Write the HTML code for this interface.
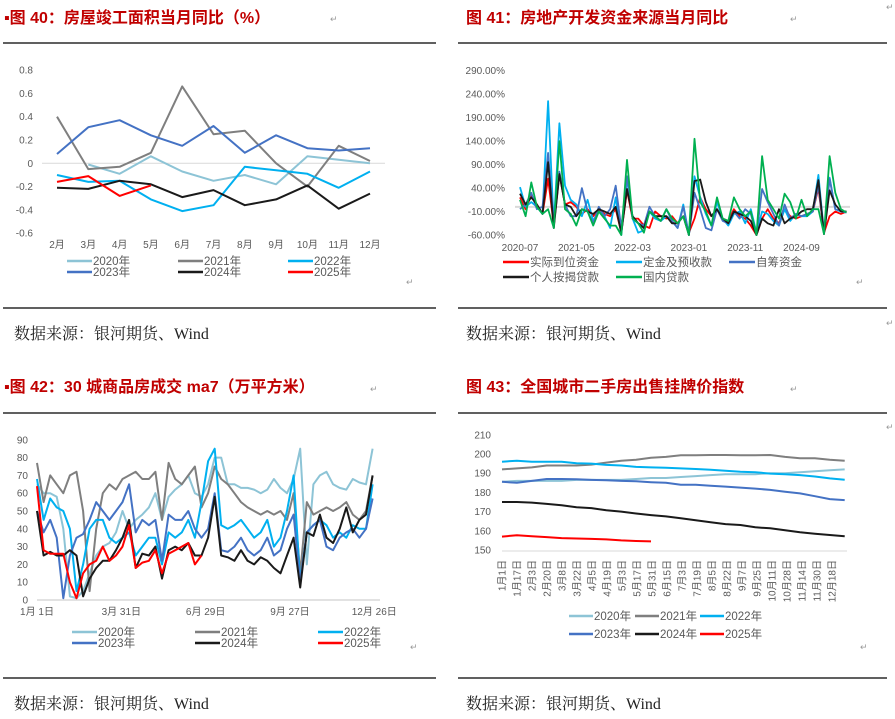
<!DOCTYPE html>
<html><head><meta charset="utf-8"><style>
body{margin:0;background:#fff;}
svg{display:block;font-family:"Liberation Sans","Noto Sans CJK SC",sans-serif;}
.t{fill:#c00000;font-weight:bold;font-size:16px;font-family:"Liberation Sans","Noto Sans CJK SC",sans-serif;}
.src{fill:#222;font-size:16px;font-family:"Liberation Serif","Noto Serif CJK SC",serif;}
.tk{fill:#595959;font-size:10px;}
.lg{fill:#595959;font-size:11.5px;}
.rt{fill:#999;font-size:9px;}
</style></head><body>
<svg id="s" width="895" height="719" viewBox="0 0 895 719">
<text class="t" x="4" y="23">▪图 40：房屋竣工面积当月同比（%）</text>
<text class="t" x="466" y="23">图 41：房地产开发资金来源当月同比</text>
<text class="t" x="4" y="392">▪图 42：30 城商品房成交 ma7（万平方米）</text>
<text class="t" x="466" y="392">图 43：全国城市二手房出售挂牌价指数</text>
<g stroke="#000" stroke-width="1.2">
<line x1="3" y1="43" x2="436" y2="43"/><line x1="458" y1="43" x2="887" y2="43"/>
<line x1="3" y1="308" x2="436" y2="308"/><line x1="458" y1="308" x2="887" y2="308"/>
<line x1="3" y1="413" x2="436" y2="413"/><line x1="458" y1="413" x2="887" y2="413"/>
<line x1="3" y1="678" x2="436" y2="678"/><line x1="458" y1="678" x2="887" y2="678"/>
</g>
<text class="src" x="14" y="339">数据来源：银河期货、Wind</text>
<text class="src" x="466" y="339">数据来源：银河期货、Wind</text>
<text class="src" x="14" y="709">数据来源：银河期货、Wind</text>
<text class="src" x="466" y="709">数据来源：银河期货、Wind</text>
<g class="rt"><text x="330" y="22">↵</text><text x="790" y="22">↵</text><text x="886" y="10">↵</text><text x="406" y="285">↵</text><text x="856" y="285">↵</text><text x="886" y="326">↵</text><text x="370" y="392">↵</text><text x="790" y="392">↵</text><text x="886" y="430">↵</text><text x="410" y="650">↵</text><text x="860" y="650">↵</text></g>
<g id="c1"></g><g id="c2"></g><g id="c3"></g><g id="c4"></g>
</svg>
<script>
// ---------- data ----------
const c1Months=["2月","3月","4月","5月","6月","7月","8月","9月","10月","11月","12月"];
const c1Ticks=[0.8,0.6,0.4,0.2,0,-0.2,-0.4,-0.6];
const c1y2020=[null,-0.01,-0.09,0.06,-0.07,-0.15,-0.1,-0.18,0.06,0.03,0.0];
const c1y2021=[0.40,-0.05,-0.03,0.09,0.66,0.25,0.28,0,-0.2,0.15,0.02];
const c1y2022=[-0.1,-0.16,-0.15,-0.31,-0.41,-0.36,-0.03,-0.06,-0.09,-0.21,-0.07];
const c1y2023=[0.08,0.31,0.37,0.24,0.15,0.32,0.09,0.24,0.13,0.11,0.13];
const c1y2024=[-0.21,-0.22,-0.15,-0.18,-0.29,-0.23,-0.36,-0.31,-0.19,-0.39,-0.26];
const c1y2025=[-0.16,-0.11,-0.28,-0.19];

const c2Ticks=[290,240,190,140,90,40,-10,-60];
const c2Labels=["2020-07","2021-05","2022-03","2023-01","2023-11","2024-09"];
const c2Red=[20,-5,25,5,-15,60,-40,70,5,10, 0,-15,-5,-20,-5,-15,-20,-5,-55,35, -25,-25,-40,-45,-10,-20,-25,-20,-35,-20, -55,-25,20,-5,-20,-5,-25,-30,-5,-20, -25,-40,-60,-25,-5,-25,-35,-5,-20,-25, -20,-15,-10,40,-55,-20,-10,-15,-10];
const c2Deposit=[42,0,10,0,-15,225,-40,178,45,15, 5,-20,15,-30,-10,-20,-45,20,-60,60, -25,-55,-50,-10,-25,-30,-20,-30,-45,5, -60,65,20,-15,-40,10,-25,-40,-15,-10, -35,-5,-55,-10,-15,-30,-40,-5,-30,-15, -20,-20,-10,68,-55,62,-5,-10,-12];
const c2Self=[-5,5,30,-5,0,115,-35,75,5,-20, -20,40,-10,-35,0,-20,-5,45,-45,65, -25,-35,-40,0,-20,-30,-5,-30,-45,0, -60,30,-5,-45,-50,-5,-30,-35,-10,-25, -5,-15,-60,38,10,-15,-40,5,-25,-15, -20,-15,-10,45,-55,60,-5,-8,-12];
const c2Mortgage=[28,5,20,5,-15,95,-45,70,5,0, -20,-5,-10,-15,-5,-10,-15,0,-55,38, -20,-35,-45,-10,-20,-20,-20,-35,-35,-20, -60,55,58,10,-20,-5,-25,-35,-10,-15, -20,-30,-60,-25,-35,-40,-5,-35,-25,-20, -10,-5,-5,57,-58,35,5,-10,-10];
const c2Loan=[15,-20,52,0,-15,-5,-45,140,-5,-15, -40,-5,-10,-40,-10,-25,-40,-40,-60,100, -25,-35,-55,-10,-20,-30,-5,-25,-35,-20, -60,145,10,-10,-40,20,-25,-30,20,-5, -20,-10,-60,108,15,-5,-25,28,10,-25, 15,-20,-5,-5,-58,108,30,-5,-12];

const c3Ticks=[90,80,70,60,50,40,30,20,10,0];
const c3Labels=["1月 1日","3月 31日","6月 29日","9月 27日","12月 26日"];
const c3y2020=[65,60,60,58,40,2,1,5,15,25,30,32,38,50,40,45,48,52,60,45,58,62,65,70,60,58,65,80,80,65,65,63,63,62,60,62,68,63,60,68,85,20,65,70,72,65,63,62,68,66,65,85];
const c3y2021=[77,55,70,65,60,70,72,50,5,40,60,65,62,68,70,72,68,68,72,45,77,68,65,70,75,52,60,75,68,65,60,55,52,50,48,50,48,50,45,60,15,55,48,50,52,50,52,55,48,45,50,70];
const c3y2022=[68,45,57,52,50,40,5,20,40,45,45,35,32,35,38,25,30,35,35,20,38,35,38,45,35,55,78,85,42,40,42,45,40,35,38,45,30,35,50,70,10,38,42,45,42,35,38,35,42,40,40,65];
const c3y2023=[50,38,45,35,1,25,35,37,45,55,50,45,50,55,65,38,45,42,45,22,48,45,45,50,40,35,40,60,28,27,30,35,28,25,28,35,25,28,40,48,10,38,42,45,30,28,35,38,40,35,40,57];
const c3y2024=[50,25,27,25,25,28,25,2,12,18,22,22,28,35,45,18,26,25,30,12,28,30,28,32,25,25,35,58,25,24,22,28,22,20,24,22,18,15,25,35,7,38,36,48,35,32,40,52,38,45,48,70];
const c3y2025=[64,28,26,26,26,10,1,15,20,22,30,22,25,30,42,18,21,22,28,15,26,28,30,32,20,25];

const c4Ticks=[210,200,190,180,170,160,150];
const c4Labels=["1月1日","1月17日","2月3日","2月20日","3月8日","3月22日","4月5日","4月19日","5月3日","5月17日","5月31日","6月15日","7月3日","7月19日","8月5日","8月22日","9月7日","9月25日","10月11日","10月28日","11月14日","11月30日","12月18日"];
const c4y2020=[185.5,186,186,186,186,186.5,186.5,186.5,186.5,187,187.5,187.5,188,188.5,189,189.5,189.5,189.5,190,190,190.5,191,191.5,192];
const c4y2021=[192,192.5,193,194,194,194,194.5,195.5,196.5,197,198,198.5,199.3,199.3,199.5,199.5,199.3,199.3,199.5,198.5,197.8,197.8,197,196.5];
const c4y2022=[196,196.5,196,196,196,195.2,195,194.3,194,193.3,193,192.8,192.5,192.2,191.8,191.3,190.8,190.5,189.8,189.5,189,188.3,187.3,186.6];
const c4y2023=[185.5,185,186,187,187,186.8,186.5,186.3,186,185.8,185.3,185,184,184,183.5,183,182.5,182,181.3,180.3,179.5,178,176.5,176];
const c4y2024=[175,175,174.7,174,173.3,172.3,171.8,170.7,170,169,168.2,167.5,166.5,165.5,164.5,163.5,163,161.8,161.3,160.3,159.2,158.5,157.8,157.2];
const c4y2025=[157,157.7,157.2,156.7,156.2,156,155.8,155.5,155,154.7,154.5];

// ---------- helpers ----------
const NS="http://www.w3.org/2000/svg";
function mk(parent,tag,attrs){const e=document.createElementNS(NS,tag);for(const k in attrs)e.setAttribute(k,attrs[k]);parent.appendChild(e);return e;}
function txt(parent,x,y,s,cls,anchor){const e=mk(parent,"text",{x:x,y:y,class:cls,"text-anchor":anchor||"start"});e.textContent=s;return e;}
function series(parent,vals,xf,yf,color,w,name){
  let d="",pen=false;
  vals.forEach((v,i)=>{if(v===null){pen=false;return;}d+=(pen?"L":"M")+xf(i).toFixed(1)+","+yf(v).toFixed(1);pen=true;});
  const p=mk(parent,"path",{d:d,fill:"none",stroke:color,"stroke-width":w,"stroke-linejoin":"round"});
  
  
  return p;
}
function legend(parent,x,y,color,label,len){
  const g=mk(parent,"g",{});
  
  
  mk(g,"line",{x1:x,y1:y,x2:x+len,y2:y,stroke:color,"stroke-width":2.5});
  txt(g,x+len+1,y+4,label,"lg");
}
const C={y20:"#8dc4d6",y21:"#7f7f7f",y22:"#00b0f0",y23:"#4472c4",y24:"#1a1a1a",y25:"#ff0000"};

// ---------- chart 40 ----------
(function(){
  const g=document.getElementById("c1");
  
  
  const y=v=>163.3-v/0.2*23.3, x=i=>57+i*31.3;
  mk(g,"line",{x1:42,y1:y(0),x2:385,y2:y(0),stroke:"#d9d9d9","stroke-width":1});
  c1Ticks.forEach(t=>{const e=txt(g,33,y(t)+3.5,String(t),"tk","end");});
  c1Months.forEach((m,i)=>{const e=txt(g,x(i),248,m,"tk","middle");});
  series(g,c1y2020,x,y,C.y20,2,"line-2020");
  series(g,c1y2021,x,y,C.y21,2,"line-2021");
  series(g,c1y2022,x,y,C.y22,2,"line-2022");
  series(g,c1y2023,x,y,C.y23,2,"line-2023");
  series(g,c1y2024,x,y,C.y24,2,"line-2024");
  series(g,c1y2025,x,y,C.y25,2,"line-2025");
  legend(g,67,261,C.y20,"2020年",25);legend(g,178,261,C.y21,"2021年",25);legend(g,288,261,C.y22,"2022年",25);
  legend(g,67,272,C.y23,"2023年",25);legend(g,178,272,C.y24,"2024年",25);legend(g,288,272,C.y25,"2025年",25);
})();

// ---------- chart 41 ----------
(function(){
  const g=document.getElementById("c2");
  
  
  const y=v=>(235-(v+60)/50*23.47), x=i=>520+i*5.63;
  mk(g,"line",{x1:515,y1:y(0),x2:850,y2:y(0),stroke:"#d9d9d9","stroke-width":2});
  c2Ticks.forEach(t=>{const e=txt(g,505,y(t)+3.5,t.toFixed(2)+"%","tk","end");});
  c2Labels.forEach((m,i)=>{const e=txt(g,x(i*10),251,m,"tk","middle");});
  series(g,c2Red,x,y,"#ff0000",1.8,"line-actual-funds");
  series(g,c2Deposit,x,y,"#00b0f0",1.8,"line-deposits");
  series(g,c2Self,x,y,"#4472c4",1.8,"line-self-raised");
  series(g,c2Mortgage,x,y,"#1a1a1a",1.8,"line-mortgage");
  series(g,c2Loan,x,y,"#00b050",1.8,"line-domestic-loans");
  legend(g,503,262,"#ff0000","实际到位资金",26);legend(g,616,262,"#00b0f0","定金及预收款",26);legend(g,729,262,"#4472c4","自筹资金",26);
  legend(g,503,277,"#1a1a1a","个人按揭贷款",26);legend(g,616,277,"#00b050","国内贷款",26);
})();

// ---------- chart 42 ----------
(function(){
  const g=document.getElementById("c3");
  
  
  const y=v=>600-v*1.78, x=i=>37+i*7*0.94;
  mk(g,"line",{x1:37,y1:600,x2:380,y2:600,stroke:"#d9d9d9","stroke-width":1.5});
  c3Ticks.forEach(t=>{const e=txt(g,28,y(t)+3.5,String(t),"tk","end");});
  c3Labels.forEach((m,i)=>{const e=txt(g,37+i*89.7*0.94,615,m,"tk","middle");});
  series(g,c3y2020,x,y,C.y20,2,"line-2020");
  series(g,c3y2021,x,y,C.y21,2,"line-2021");
  series(g,c3y2022,x,y,C.y22,2,"line-2022");
  series(g,c3y2023,x,y,C.y23,2,"line-2023");
  series(g,c3y2024,x,y,C.y24,2,"line-2024");
  series(g,c3y2025,x,y,C.y25,2,"line-2025");
  legend(g,72,632,C.y20,"2020年",25);legend(g,195,632,C.y21,"2021年",25);legend(g,318,632,C.y22,"2022年",25);
  legend(g,72,643,C.y23,"2023年",25);legend(g,195,643,C.y24,"2024年",25);legend(g,318,643,C.y25,"2025年",25);
})();

// ---------- chart 43 ----------
(function(){
  const g=document.getElementById("c4");
  
  
  const y=v=>550-(v-150)*1.92, x=i=>502+i*14.9;
  mk(g,"line",{x1:502,y1:551,x2:847,y2:551,stroke:"#d9d9d9","stroke-width":1});
  c4Ticks.forEach(t=>{const e=txt(g,491,y(t)+3.5,String(t),"tk","end");});
  c4Labels.forEach((m,i)=>{const cx=502+i*15,e=txt(g,cx+3.5,560,m,"tk","end");e.setAttribute("transform","rotate(-90 "+(cx+3.5)+" 560)");});
  series(g,c4y2020,x,y,C.y20,2,"line-2020");
  series(g,c4y2021,x,y,C.y21,2,"line-2021");
  series(g,c4y2022,x,y,C.y22,2,"line-2022");
  series(g,c4y2023,x,y,C.y23,2,"line-2023");
  series(g,c4y2024,x,y,C.y24,2,"line-2024");
  series(g,c4y2025,x,y,C.y25,2,"line-2025");
  legend(g,569,616,C.y20,"2020年",24);legend(g,635,616,C.y21,"2021年",24);legend(g,700,616,C.y22,"2022年",24);
  legend(g,569,634,C.y23,"2023年",24);legend(g,635,634,C.y24,"2024年",24);legend(g,700,634,C.y25,"2025年",24);
})();
</script>
</body></html>
